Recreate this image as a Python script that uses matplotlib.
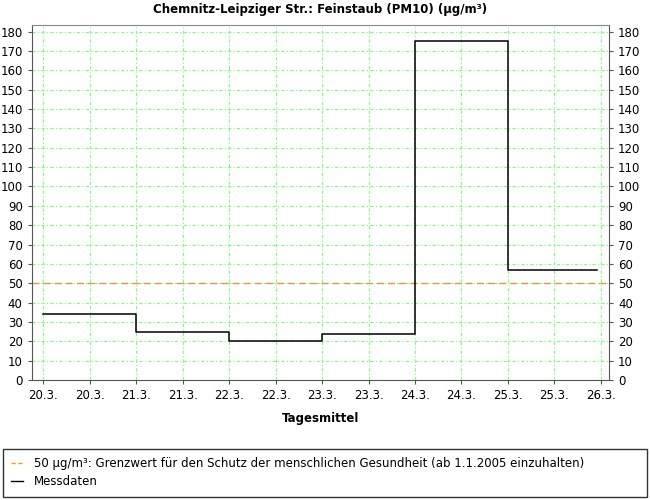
import matplotlib
matplotlib.use('Agg')
import matplotlib.pyplot as plt
from matplotlib.lines import Line2D

# Tagesmittel PM10, Chemnitz-Leipziger Str.
day_offsets = [0, 1, 2, 3, 4, 5]          # 20.3. .. 25.3.
values = [34, 25, 20, 24, 175, 57]
last_hour = 23                            # letzter Wert gilt bis 25.3. 23:00
grenzwert = 50

tick_pos = [i * 0.5 for i in range(13)]
tick_labels = ['20.3.', '20.3.', '21.3.', '21.3.', '22.3.', '22.3.', '23.3.',
               '23.3.', '24.3.', '24.3.', '25.3.', '25.3.', '26.3.']
y_ticks = list(range(0, 181, 10))

plt.rcParams['font.family'] = ['DejaVu Sans']
fig = plt.figure(figsize=(6.5, 5), dpi=100)
ax = fig.add_axes([0.0488, 0.24, 0.888, 0.71])

grid_col = '#7dff7d'
ax.grid(True, color=grid_col, linestyle=(0, (3, 2, 1, 2)), linewidth=0.8)
ax.set_axisbelow(True)

x = day_offsets + [day_offsets[-1] + last_hour / 24]
y = values + [values[-1]]
ax.plot(x, y, drawstyle='steps-post', color='black', linewidth=1.1, zorder=3)
ax.axhline(grenzwert, color='#e8954a', linestyle=(0, (5, 3)), linewidth=1.0, zorder=2)

ax.set_xlim(-3 / 24, 6 + 2.1 / 24)
ax.set_ylim(0, 183.4)
ax.set_xticks(tick_pos)
ax.set_xticklabels(tick_labels)
ax.set_yticks(y_ticks)
ax.tick_params(labelsize=8.5, length=3, color='#555555', right=True, labelright=True)
for s in ax.spines.values():
    s.set_color('#555555')
ax.spines['top'].set_color('#888888')

ax.set_title('Chemnitz-Leipziger Str.: Feinstaub (PM10) (µg/m³)',
             fontsize=8.5, fontweight='bold', pad=9)
ax.set_xlabel('Tagesmittel', fontsize=8.5, fontweight='bold', labelpad=7)

handles = [Line2D([], [], color='#ff9900', linestyle=(0, (3, 2)), linewidth=1),
           Line2D([], [], color='black', linewidth=1)]
labels = ['50 µg/m³: Grenzwert für den Schutz der menschlichen Gesundheit (ab 1.1.2005 einzuhalten)',
          'Messdaten']
leg = fig.legend(handles, labels, loc='lower left', bbox_to_anchor=(0.004, 0.006, 0.992, 0.095),
                 mode='expand', fontsize=8.5, frameon=True, fancybox=False,
                 handlelength=1.0, handletextpad=0.9, borderaxespad=0,
                 labelspacing=0.4, borderpad=0.75)
leg.get_frame().set_edgecolor('black')
leg.get_frame().set_linewidth(1)

fig.savefig('out.png', dpi=100)
